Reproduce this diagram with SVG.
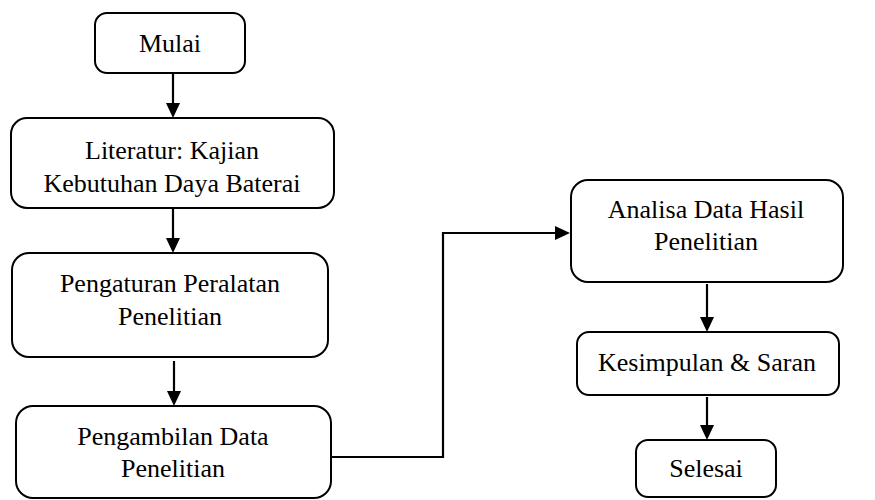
<svg xmlns="http://www.w3.org/2000/svg" width="875" height="500" viewBox="0 0 875 500">
<style>
.box{fill:#fff;stroke:#000;stroke-width:2}
.t{font-family:'Liberation Serif','Times New Roman',serif;font-size:26px;fill:#000;text-anchor:middle}
.c{fill:none;stroke:#000;stroke-width:2.2}
.h{fill:#000;stroke:none}
</style>
<rect width="875" height="500" fill="#fff"/>
<g id="connectors">
<line class="c" x1="173" y1="74" x2="173" y2="104"/>
<polygon class="h" points="166,103 180,103 173,118"/>
<line class="c" x1="173" y1="209" x2="173" y2="239"/>
<polygon class="h" points="166,238 180,238 173,253"/>
<line class="c" x1="174" y1="361" x2="174" y2="392"/>
<polygon class="h" points="167,391 181,391 174,406"/>
<polyline class="c" points="331,457 443,457 443,233 556,233"/>
<polygon class="h" points="555,226 555,240 570,233"/>
<line class="c" x1="707" y1="284" x2="707" y2="318"/>
<polygon class="h" points="700,317 714,317 707,332"/>
<line class="c" x1="707" y1="397" x2="707" y2="426"/>
<polygon class="h" points="700,425 714,425 707,440"/>
</g>
<g id="mulai">
<rect class="box" x="95" y="13" width="150" height="60" rx="12"/>
<text class="t" x="170" y="52">Mulai</text>
</g>
<g id="literatur">
<rect class="box" x="11" y="118" width="323" height="90" rx="16"/>
<text class="t" x="172" y="159">Literatur: Kajian</text>
<text class="t" x="172" y="192">Kebutuhan Daya Baterai</text>
</g>
<g id="pengaturan">
<rect class="box" x="12" y="253" width="316" height="104" rx="17"/>
<text class="t" x="170" y="292">Pengaturan Peralatan</text>
<text class="t" x="170" y="325">Penelitian</text>
</g>
<g id="pengambilan">
<rect class="box" x="16" y="406" width="315" height="92" rx="17"/>
<text class="t" x="173" y="445">Pengambilan Data</text>
<text class="t" x="173" y="477">Penelitian</text>
</g>
<g id="analisa">
<rect class="box" x="571" y="180" width="272" height="102" rx="17"/>
<text class="t" x="706" y="218">Analisa Data Hasil</text>
<text class="t" x="706" y="250">Penelitian</text>
</g>
<g id="kesimpulan">
<rect class="box" x="577" y="332" width="262" height="63" rx="12"/>
<text class="t" x="707" y="371">Kesimpulan &amp; Saran</text>
</g>
<g id="selesai">
<rect class="box" x="636" y="440" width="140" height="57" rx="12"/>
<text class="t" x="706" y="477">Selesai</text>
</g>
</svg>
